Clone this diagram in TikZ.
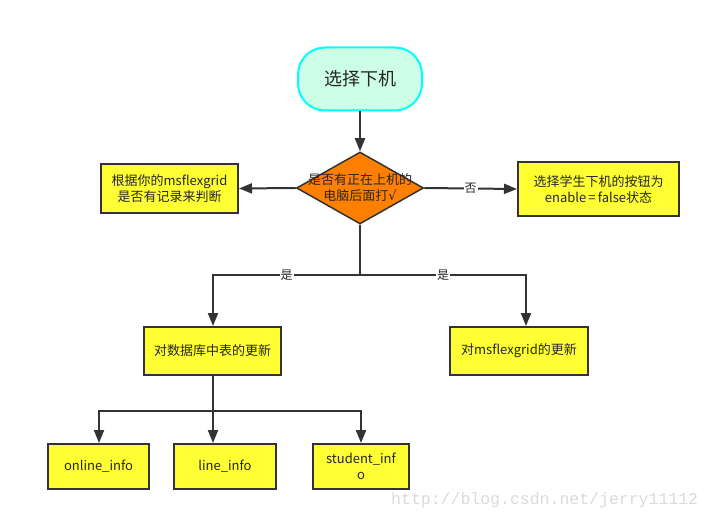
\documentclass[tikz,border=0pt]{standalone}
\usepackage{fontspec}
\setmainfont{Noto Sans CJK SC}
\newfontfamily\wmfont{Liberation Mono}
\newfontfamily\symfont{DejaVu Sans}
\usetikzlibrary{arrows.meta,shapes.geometric}
\definecolor{lineC}{HTML}{333333}
\definecolor{boxY}{HTML}{FFFF33}
\definecolor{diaO}{HTML}{FF8000}
\definecolor{startF}{HTML}{CCFFE6}
\definecolor{startB}{HTML}{00FFFF}
\definecolor{wmC}{HTML}{DADADA}
\begin{document}
\begin{tikzpicture}[x=1pt,y=-1pt,
  ybox/.style={draw=lineC,line width=2pt,fill=boxY,inner sep=0pt,align=center,
     font=\fontsize{13}{16}\selectfont,text=black!85},
  arr/.style={draw=lineC,line width=2pt,-{Triangle[length=13pt,width=10pt]}},
  conn/.style={draw=lineC,line width=2pt},
  lab/.style={fill=white,inner sep=1pt,font=\fontsize{12}{14}\selectfont,text=black!85}]
\useasboundingbox (0,0) rectangle (712,521);
% start
\node[draw=startB,line width=2pt,fill=startF,rounded corners=27pt,
  minimum width=124pt,minimum height=63pt,inner sep=0pt,
  font=\fontsize{18}{20}\selectfont,text=black!85] (start) at (360,79) {选择下机};
% decision
\node[diamond,draw=lineC,line width=1.5pt,fill=diaO,minimum width=127pt,
  minimum height=72pt,inner sep=0pt] (dia) at (360,188) {};
\node[align=center,inner sep=0pt,font=\fontsize{13}{16}\selectfont,text=black!85]
  (diat) at (dia.center) {是否有正在上机的\\电脑后面打{\symfont √}};
% side boxes
\node[ybox,minimum width=137pt,minimum height=49pt] (lbox) at (169.5,188.5)
  {根据你的msflexgrid\\是否有记录来判断};
\node[ybox,minimum width=161pt,minimum height=54pt] (rbox) at (598.5,189)
  {选择学生下机的按钮为\\enable\,=\,false状态};
% middle boxes
\node[ybox,minimum width=137pt,minimum height=48pt] (mbl) at (212.5,351)
  {对数据库中表的更新};
\node[ybox,minimum width=138pt,minimum height=48pt] (mbr) at (519,351)
  {对msflexgrid的更新};
% bottom boxes
\node[ybox,minimum width=101pt,minimum height=45pt] (b1) at (98.5,466.5) {online\_info};
\node[ybox,minimum width=102pt,minimum height=45pt] (b2) at (225,466.5) {line\_info};
\node[ybox,minimum width=96pt,minimum height=45pt] (b3) at (361,466.5) {student\_inf\\o};
% coordinates
\coordinate (c1) at (360,275);
\coordinate (c2) at (213,275);
\coordinate (c3) at (526,275);
\coordinate (c4) at (213,411);
\coordinate (c5) at (99,411);
\coordinate (c6) at (361,411);
% connectors
\draw[arr] (start.south) -- (dia.north);
\draw[arr] (dia.west) -- (lbox.east);
\draw[arr] (dia.east) -- node[lab]{否} (rbox.west);
\draw[conn] (dia.south) -- (c1);
\draw[arr] (c1) -- node[lab]{是} (c2) -- (c2 |- mbl.north);
\draw[arr] (c1) -- node[lab]{是} (c3) -- (c3 |- mbr.north);
\draw[conn] (mbl.south -| c4) -- (c4);
\draw[arr] (c4) -- (c5) -- (c5 |- b1.north);
\draw[arr] (c4) -- (c4 |- b2.north);
\draw[arr] (c4) -- (c6) -- (c6 |- b3.north);
% watermark
\node[anchor=west,inner sep=0pt,text=wmC,font=\wmfont\fontsize{16.5}{18}\selectfont]
  (wm) at (391,500) {http://blog.csdn.net/jerry11112};
\end{tikzpicture}
\end{document}
